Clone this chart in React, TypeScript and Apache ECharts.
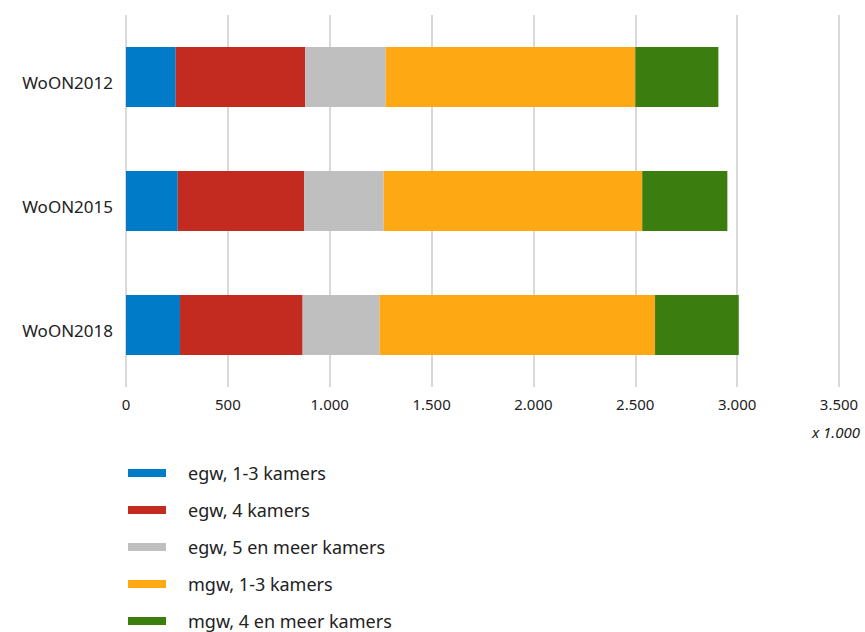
import React, { useEffect, useRef } from "react";
import * as echarts from "echarts";

const categories = ["WoON2012", "WoON2015", "WoON2018"];
const seriesNames = [
  "egw, 1-3 kamers",
  "egw, 4 kamers",
  "egw, 5 en meer kamers",
  "mgw, 1-3 kamers",
  "mgw, 4 en meer kamers",
];
const egw13 = [244, 254, 265];
const egw4 = [635, 620, 602];
const egw5 = [396, 391, 378];
const mgw13 = [1225, 1269, 1352];
const mgw4 = [408, 418, 411];
const seriesValues = [egw13, egw4, egw5, mgw13, mgw4];
const colors = ["#007bc7", "#c42b20", "#bfbfbf", "#fea914", "#3b7d0e"];
const xTicks = { min: 0, max: 3500, interval: 500 };
const unitLabel = "x 1.000";

const FONT = "'Noto Sans', 'Open Sans', sans-serif";

export default function App() {
  const ref = useRef<HTMLDivElement>(null);
  useEffect(() => {
    if (!ref.current) return;
    const chart = echarts.init(ref.current, undefined, { renderer: "svg" });
    chart.setOption({
      animation: false,
      backgroundColor: "#ffffff",
      grid: { left: 126, right: 26, top: 15, height: 372, containLabel: false },
      xAxis: {
        type: "value",
        min: xTicks.min,
        max: xTicks.max,
        interval: xTicks.interval,
        axisLine: { show: false },
        axisTick: { show: false },
        splitLine: { show: true, lineStyle: { color: "#cccccc", width: 1.5 } },
        axisLabel: {
          color: "#222222",
          fontFamily: FONT,
          fontSize: 15,
          margin: 9,
          formatter: (v: number) =>
            v >= 1000 ? Math.floor(v / 1000) + "." + String(v % 1000).padStart(3, "0") : String(v),
        },
      },
      yAxis: {
        type: "category",
        data: categories,
        inverse: true,
        axisLine: { show: false },
        axisTick: { show: false },
        splitLine: { show: false },
        axisLabel: {
          margin: 13,
          formatter: (v: string) => "{a|" + v + "}",
          rich: {
            a: {
              color: "#222222",
              fontFamily: FONT,
              fontSize: 17,
              padding: [11, 0, 0, 0],
            },
          },
        },
      },
      legend: {
        type: "plain",
        orient: "vertical",
        left: 123,
        top: 458,
        height: 260,
        itemWidth: 38,
        itemHeight: 8,
        itemGap: 17,
        icon: "rect",
        data: seriesNames,
        textStyle: {
          color: "#222222",
          fontFamily: FONT,
          fontSize: 18,
          lineHeight: 20,
          padding: [0, 0, 0, 17],
        },
      },
      graphic: [
        {
          type: "text",
          right: 5,
          top: 424,
          style: {
            text: unitLabel,
            fill: "#222222",
            font: "italic 15px " + FONT,
          },
        },
      ],
      series: seriesNames.map((name, i) => ({
        name,
        type: "bar",
        stack: "total",
        barWidth: 60,
        data: seriesValues[i],
        itemStyle: { color: colors[i] },
        emphasis: { disabled: true },
      })),
    });
    return () => chart.dispose();
  }, []);
  return (
    <div
      ref={ref}
      style={{ position: "fixed", left: 0, top: 0, width: 865, height: 632 }}
    />
  );
}
